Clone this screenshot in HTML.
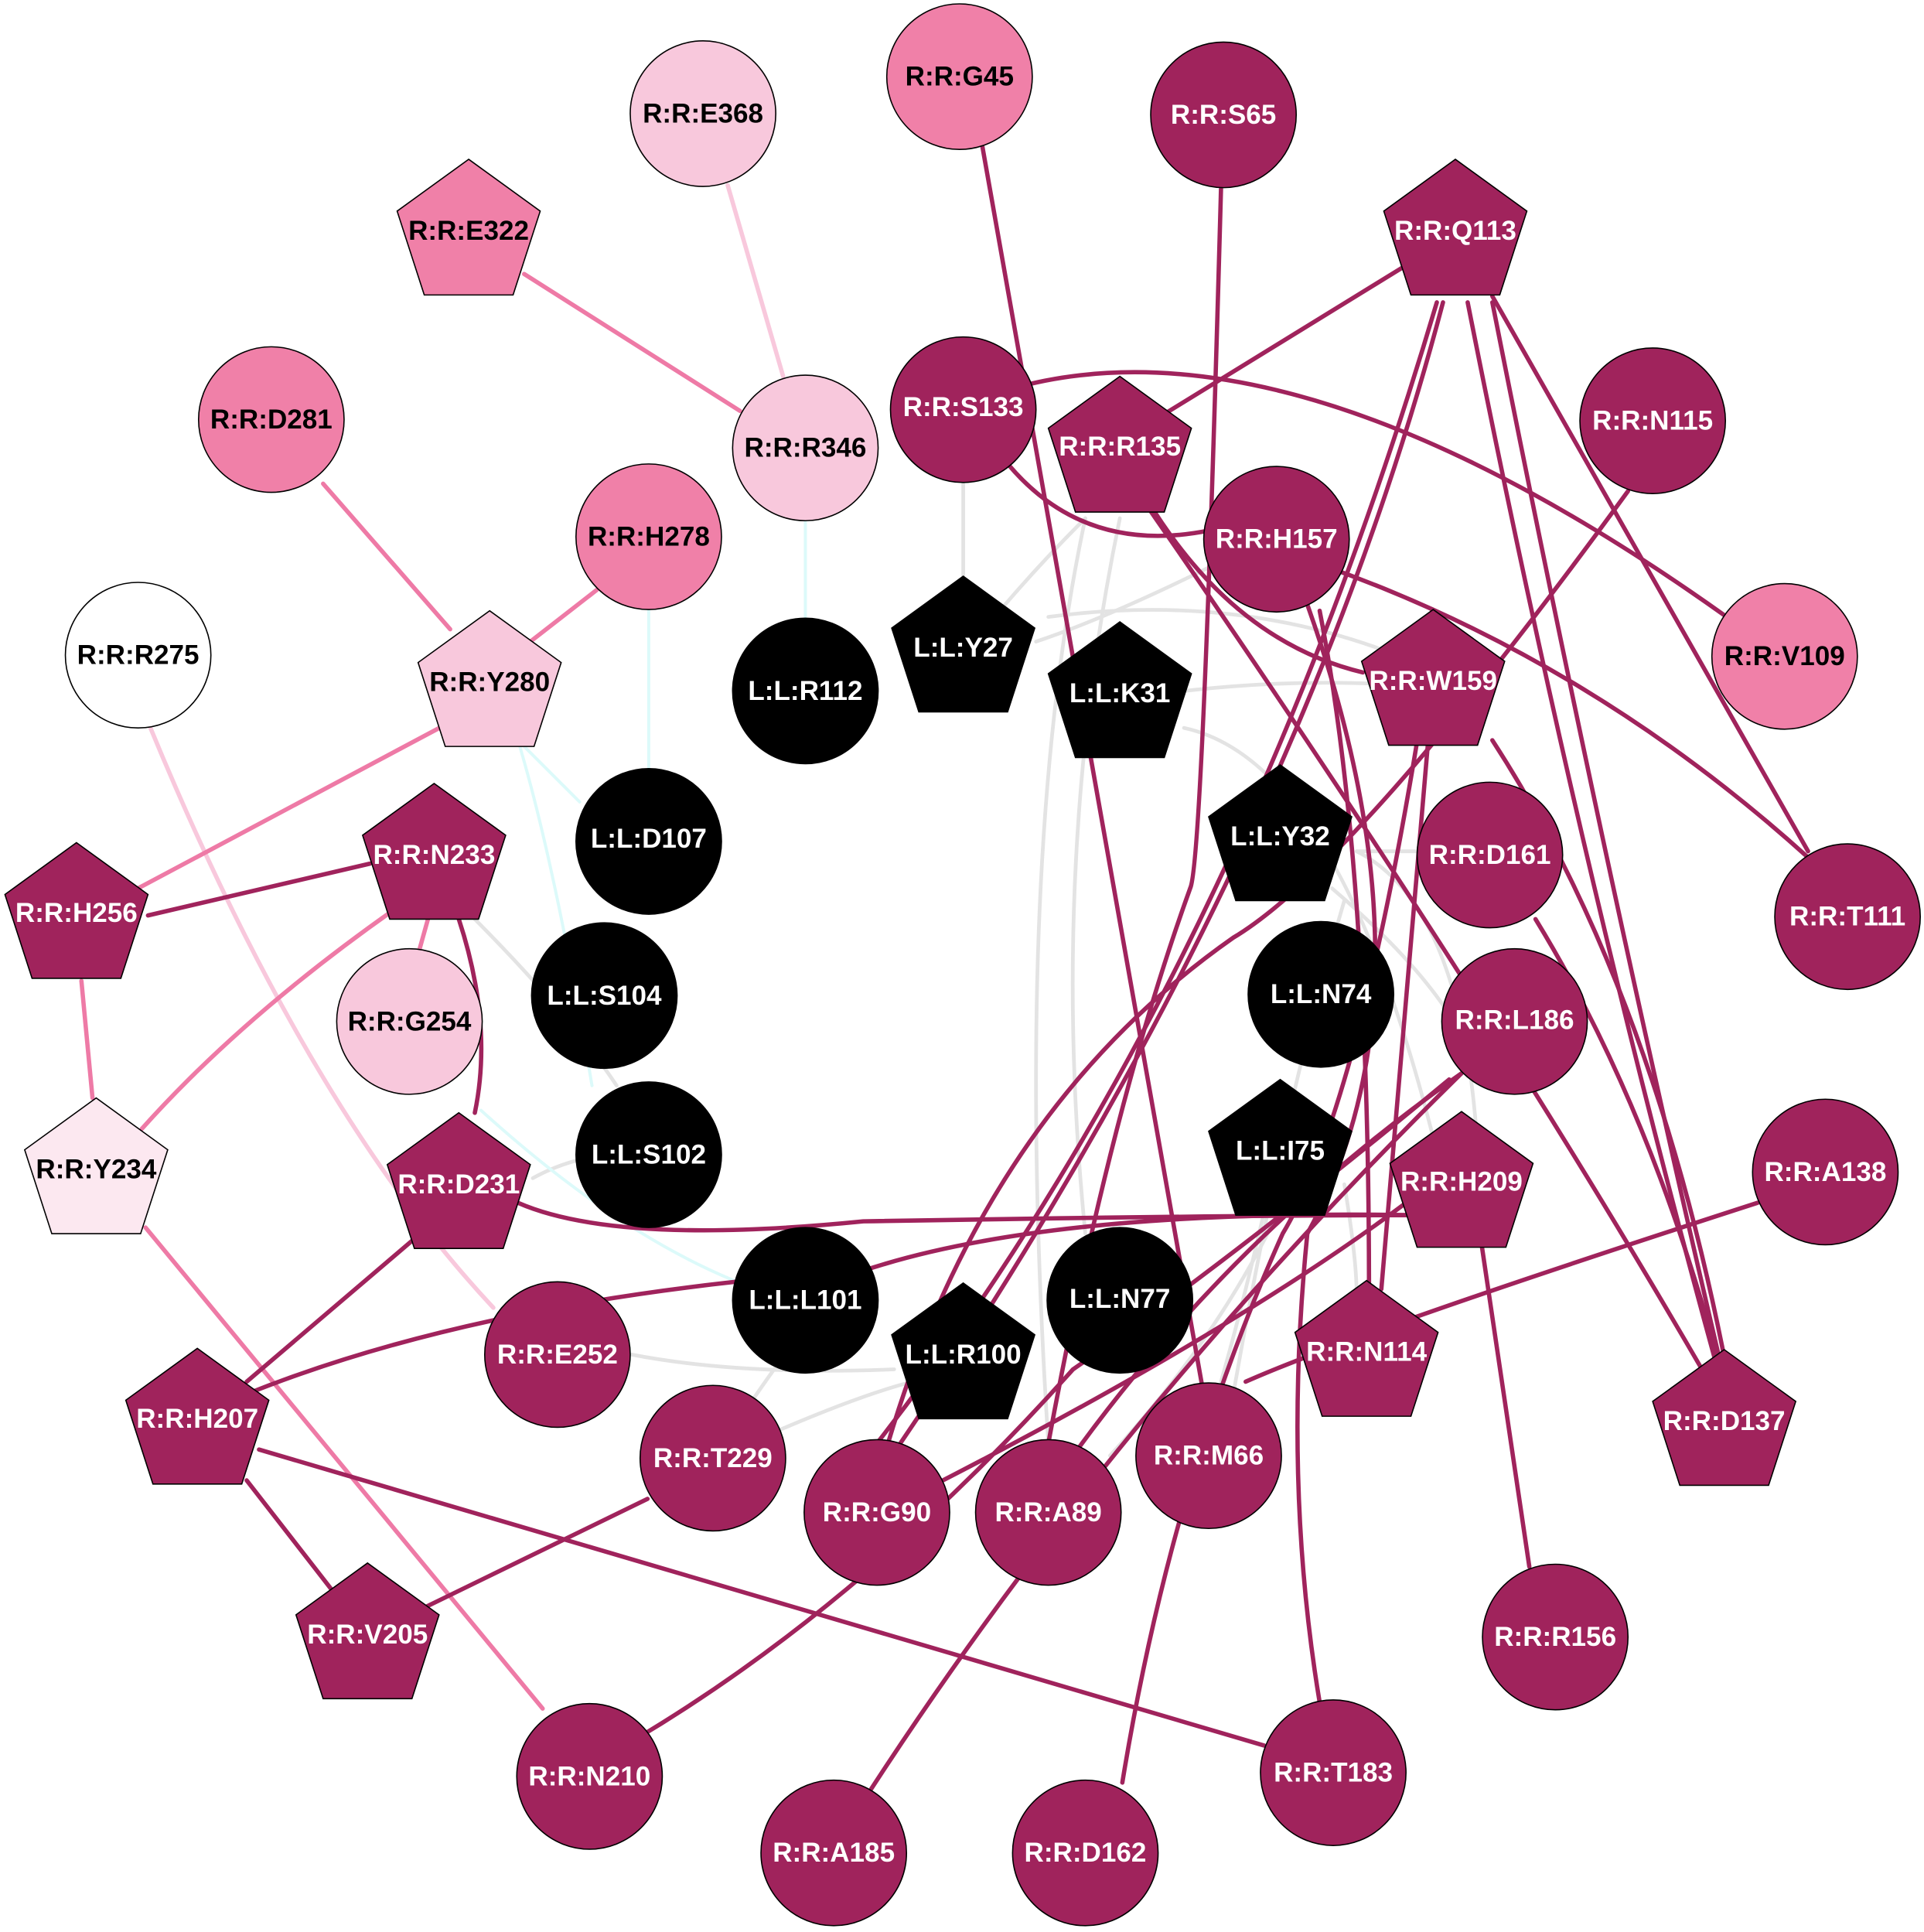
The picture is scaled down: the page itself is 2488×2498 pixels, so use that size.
<!DOCTYPE html>
<html><head><meta charset="utf-8"><style>
html,body{margin:0;padding:0;background:#fff;}
svg{display:block;}
text{font-family:"Liberation Sans",Arial,sans-serif;font-weight:bold;font-size:22px;text-anchor:middle;dominant-baseline:central;}
</style></head><body>
<svg width="2488" height="2498" viewBox="0 0 1560 1566" xmlns="http://www.w3.org/2000/svg">
<g fill="none" stroke-linecap="round">
<!-- gray edges -->
<g stroke="#e3e3e3" stroke-width="3">
<path d="M781 392 L781 470"/>
<path d="M880 420 Q830 470 790 520"/>
<path d="M880 420 Q820 700 850 1170"/>
<path d="M990 455 Q900 500 840 520"/>
<path d="M850 500 Q1000 480 1130 530"/>
<path d="M960 560 Q1050 550 1130 555"/>
<path d="M960 590 Q1100 620 1180 1000"/>
<path d="M1100 690 Q1200 740 1200 1000"/>
<path d="M1080 720 Q1150 780 1180 830"/>
<path d="M1090 730 Q1040 900 1000 1130"/>
<path d="M1070 900 Q1020 1050 900 1180"/>
<path d="M1100 690 Q1150 690 1160 690"/>
<path d="M908 420 Q850 700 880 1000"/>
<path d="M1030 960 Q1010 1050 990 1120"/>
<path d="M1090 960 Q1100 1020 1100 1050"/>
<path d="M512 1098 Q600 1115 725 1110"/>
<path d="M630 1160 Q700 1130 740 1120"/>
<path d="M600 1150 Q620 1120 635 1100"/>
<path d="M380 740 Q460 820 500 880"/>
<path d="M432 955 Q450 945 470 940"/>
</g>
<!-- cyan edges -->
<g stroke="#dcfafa" stroke-width="2.5">
<path d="M653 423 L653 500"/>
<path d="M526 495 L526 622"/>
<path d="M420 600 L470 650"/>
<path d="M420 600 Q450 700 480 880"/>
<path d="M390 900 Q500 1000 600 1040"/>
</g>
<!-- light pink edges -->
<g stroke="#f8c8dc" stroke-width="3.5">
<path d="M590 150 L635 305"/>
<path d="M122 590 Q250 900 400 1060"/>
</g>
<!-- pink edges -->
<g stroke="#ee7aa6" stroke-width="3.5">
<path d="M425 222 L600 333"/>
<path d="M262 392 L365 510"/>
<path d="M484 478 L430 520"/>
<path d="M360 588 L112 720"/>
<path d="M330 730 Q200 820 115 915"/>
<path d="M66 795 L75 890"/>
<path d="M118 995 L440 1385"/>
<path d="M347 745 L340 770"/>
</g>
<!-- dark edges -->
<g stroke="#a0235c" stroke-width="3.5">
<path d="M795 110 Q880 600 975 1125"/>
<path d="M990 153 Q975 700 965 720 Q900 900 850 1170"/>
<path d="M1140 215 L940 338"/>
<path d="M1165 245 Q1000 800 711 1170"/>
<path d="M1170 245 Q1050 700 730 1170"/>
<path d="M1190 245 Q1280 700 1390 1100"/>
<path d="M1210 245 Q1300 700 1395 1105"/>
<path d="M1210 240 L1466 690"/>
<path d="M820 315 Q1050 250 1400 500"/>
<path d="M818 377 Q880 450 980 430 Q1250 500 1466 695"/>
<path d="M930 405 Q1000 520 1105 545"/>
<path d="M930 410 Q1200 800 1380 1110"/>
<path d="M1320 398 Q1100 700 1000 760 Q800 900 720 1170"/>
<path d="M1070 495 Q1110 700 1110 1045"/>
<path d="M1158 600 Q1140 800 1120 1045"/>
<path d="M1210 600 Q1340 800 1400 1110"/>
<path d="M1245 745 Q1340 900 1395 1110"/>
<path d="M1185 870 Q1000 1000 870 1180"/>
<path d="M1185 870 Q900 1150 700 1460"/>
<path d="M1175 875 Q1000 1020 870 1110 Q700 1300 515 1410"/>
<path d="M1145 985 Q850 980 700 1030 Q400 1050 200 1130"/>
<path d="M420 975 Q500 1010 700 990 Q1000 985 1140 985"/>
<path d="M1140 975 Q1000 1080 745 1210"/>
<path d="M1200 1000 L1240 1270"/>
<path d="M1425 975 Q1100 1080 1010 1120"/>
<path d="M120 742 L300 700"/>
<path d="M372 745 Q400 830 385 902"/>
<path d="M335 1005 L200 1120"/>
<path d="M200 1200 L270 1290"/>
<path d="M210 1175 L1025 1415"/>
<path d="M525 1215 L330 1310"/>
<path d="M1150 595 Q1100 900 1040 1000 Q950 1200 910 1445"/>
<path d="M1060 490 Q1170 800 1060 1000 Q1040 1200 1070 1380"/>
</g>
</g>
<g stroke="#000" stroke-width="1">
<!-- circles -->
<circle cx="570" cy="92" r="59" fill="#f8c8dc"/>
<circle cx="778" cy="62" r="59" fill="#f080a8"/>
<circle cx="992" cy="93" r="59" fill="#a0235c"/>
<circle cx="220" cy="340" r="59" fill="#f080a8"/>
<circle cx="653" cy="363" r="59" fill="#f8c8dc"/>
<circle cx="526" cy="435" r="59" fill="#f080a8"/>
<circle cx="781" cy="332" r="59" fill="#a0235c"/>
<circle cx="1035" cy="437" r="59" fill="#a0235c"/>
<circle cx="1340" cy="341" r="59" fill="#a0235c"/>
<circle cx="1447" cy="532" r="59" fill="#f080a8"/>
<circle cx="112" cy="531" r="59" fill="#ffffff"/>
<circle cx="653" cy="560" r="59" fill="#000"/>
<circle cx="526" cy="682" r="59" fill="#000"/>
<circle cx="1208" cy="693" r="59" fill="#a0235c"/>
<circle cx="1498" cy="743" r="59" fill="#a0235c"/>
<circle cx="490" cy="807" r="59" fill="#000"/>
<circle cx="1071" cy="806" r="59" fill="#000"/>
<circle cx="332" cy="828" r="59" fill="#f8c8dc"/>
<circle cx="1228" cy="828" r="59" fill="#a0235c"/>
<circle cx="526" cy="936" r="59" fill="#000"/>
<circle cx="1480" cy="950" r="59" fill="#a0235c"/>
<circle cx="653" cy="1054" r="59" fill="#000"/>
<circle cx="908" cy="1054" r="59" fill="#000"/>
<circle cx="452" cy="1098" r="59" fill="#a0235c"/>
<circle cx="578" cy="1182" r="59" fill="#a0235c"/>
<circle cx="711" cy="1226" r="59" fill="#a0235c"/>
<circle cx="850" cy="1226" r="59" fill="#a0235c"/>
<circle cx="980" cy="1180" r="59" fill="#a0235c"/>
<circle cx="1261" cy="1327" r="59" fill="#a0235c"/>
<circle cx="478" cy="1440" r="59" fill="#a0235c"/>
<circle cx="1081" cy="1437" r="59" fill="#a0235c"/>
<circle cx="676" cy="1502" r="59" fill="#a0235c"/>
<circle cx="880" cy="1502" r="59" fill="#a0235c"/>
</g>
<g stroke="#000" stroke-width="1">
<!-- pentagons: points relative to circumcenter r=61 -->
<polygon transform="translate(380,190)" points="0,-61 58,-19 36,49 -36,49 -58,-19" fill="#f080a8"/>
<polygon transform="translate(1180,190)" points="0,-61 58,-19 36,49 -36,49 -58,-19" fill="#a0235c"/>
<polygon transform="translate(908,366)" points="0,-61 58,-19 36,49 -36,49 -58,-19" fill="#a0235c"/>
<polygon transform="translate(781,528)" points="0,-61 58,-19 36,49 -36,49 -58,-19" fill="#000"/>
<polygon transform="translate(908,565)" points="0,-61 58,-19 36,49 -36,49 -58,-19" fill="#000"/>
<polygon transform="translate(1162,555)" points="0,-61 58,-19 36,49 -36,49 -58,-19" fill="#a0235c"/>
<polygon transform="translate(397,556)" points="0,-61 58,-19 36,49 -36,49 -58,-19" fill="#f8c8dc"/>
<polygon transform="translate(1038,681)" points="0,-61 58,-19 36,49 -36,49 -58,-19" fill="#000"/>
<polygon transform="translate(352,696)" points="0,-61 58,-19 36,49 -36,49 -58,-19" fill="#a0235c"/>
<polygon transform="translate(62,744)" points="0,-61 58,-19 36,49 -36,49 -58,-19" fill="#a0235c"/>
<polygon transform="translate(1038,936)" points="0,-61 58,-19 36,49 -36,49 -58,-19" fill="#000"/>
<polygon transform="translate(78,951)" points="0,-61 58,-19 36,49 -36,49 -58,-19" fill="#fce8f0"/>
<polygon transform="translate(372,963)" points="0,-61 58,-19 36,49 -36,49 -58,-19" fill="#a0235c"/>
<polygon transform="translate(1185,962)" points="0,-61 58,-19 36,49 -36,49 -58,-19" fill="#a0235c"/>
<polygon transform="translate(781,1101)" points="0,-61 58,-19 36,49 -36,49 -58,-19" fill="#000"/>
<polygon transform="translate(1108,1099)" points="0,-61 58,-19 36,49 -36,49 -58,-19" fill="#a0235c"/>
<polygon transform="translate(160,1154)" points="0,-61 58,-19 36,49 -36,49 -58,-19" fill="#a0235c"/>
<polygon transform="translate(1398,1155)" points="0,-61 58,-19 36,49 -36,49 -58,-19" fill="#a0235c"/>
<polygon transform="translate(298,1328)" points="0,-61 58,-19 36,49 -36,49 -58,-19" fill="#a0235c"/>
</g>
<g fill="#000">
<text x="570" y="92">R:R:E368</text>
<text x="778" y="62">R:R:G45</text>
<text x="220" y="340">R:R:D281</text>
<text x="653" y="363">R:R:R346</text>
<text x="526" y="435">R:R:H278</text>
<text x="1447" y="532">R:R:V109</text>
<text x="112" y="531">R:R:R275</text>
<text x="332" y="828">R:R:G254</text>
<text x="380" y="187">R:R:E322</text>
<text x="397" y="553">R:R:Y280</text>
<text x="78" y="948">R:R:Y234</text>
</g>
<g fill="#fff">
<text x="992" y="93">R:R:S65</text>
<text x="781" y="330">R:R:S133</text>
<text x="1035" y="437">R:R:H157</text>
<text x="1340" y="341">R:R:N115</text>
<text x="653" y="560">L:L:R112</text>
<text x="526" y="680">L:L:D107</text>
<text x="1208" y="693">R:R:D161</text>
<text x="1498" y="743">R:R:T111</text>
<text x="490" y="807">L:L:S104</text>
<text x="1071" y="806">L:L:N74</text>
<text x="1228" y="827">R:R:L186</text>
<text x="526" y="936">L:L:S102</text>
<text x="1480" y="950">R:R:A138</text>
<text x="653" y="1054">L:L:L101</text>
<text x="908" y="1053">L:L:N77</text>
<text x="452" y="1098">R:R:E252</text>
<text x="578" y="1182">R:R:T229</text>
<text x="711" y="1226">R:R:G90</text>
<text x="850" y="1226">R:R:A89</text>
<text x="980" y="1180">R:R:M66</text>
<text x="1261" y="1327">R:R:R156</text>
<text x="478" y="1440">R:R:N210</text>
<text x="1081" y="1437">R:R:T183</text>
<text x="676" y="1502">R:R:A185</text>
<text x="880" y="1502">R:R:D162</text>
<text x="1180" y="187">R:R:Q113</text>
<text x="908" y="362">R:R:R135</text>
<text x="781" y="525">L:L:Y27</text>
<text x="908" y="562">L:L:K31</text>
<text x="1162" y="552">R:R:W159</text>
<text x="1038" y="678">L:L:Y32</text>
<text x="352" y="693">R:R:N233</text>
<text x="62" y="740">R:R:H256</text>
<text x="1038" y="933">L:L:I75</text>
<text x="372" y="960">R:R:D231</text>
<text x="1185" y="958">R:R:H209</text>
<text x="781" y="1098">L:L:R100</text>
<text x="1108" y="1096">R:R:N114</text>
<text x="160" y="1150">R:R:H207</text>
<text x="1398" y="1152">R:R:D137</text>
<text x="298" y="1325">R:R:V205</text>
</g>
</svg>
</body></html>
